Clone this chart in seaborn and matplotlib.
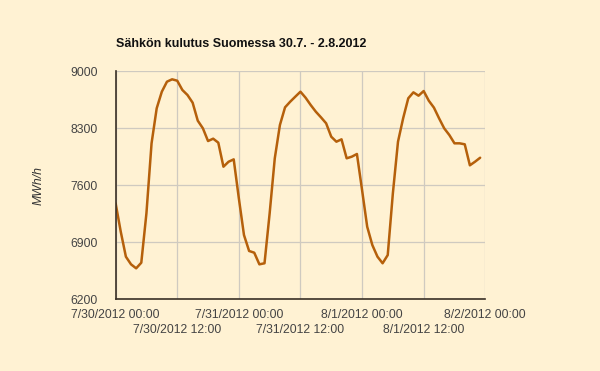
import numpy as np
import pandas as pd
import matplotlib
matplotlib.use("Agg")
import matplotlib.pyplot as plt
import seaborn as sns

# hourly consumption, 30.7.2012 00:00 -> 1.8.2012 23:00 (MWh/h)
day1 = [7375, 7027, 6720, 6626, 6577, 6646, 7252, 8112, 8542, 8746, 8869, 8898,
        8881, 8767, 8705, 8611, 8390, 8296, 8140, 8169, 8120, 7825, 7886, 7915]
day2 = [7437, 6986, 6790, 6769, 6626, 6639, 7252, 7928, 8337, 8554, 8623, 8685,
        8746, 8672, 8582, 8500, 8431, 8358, 8193, 8132, 8161, 7928, 7948, 7981]
day3 = [7539, 7088, 6863, 6720, 6639, 6740, 7498, 8132, 8419, 8665, 8738, 8697,
        8754, 8635, 8550, 8419, 8296, 8214, 8112, 8112, 8100, 7842, 7886, 7935]

consumption = day1 + day2 + day3
times = pd.date_range("2012-07-30 00:00", periods=len(consumption), freq="h")
df = pd.DataFrame({"time": times, "MWh/h": consumption})

yticks = [6200, 6900, 7600, 8300, 9000]
midnights = pd.date_range("2012-07-30 00:00", "2012-08-02 00:00", freq="24h")
noons = pd.date_range("2012-07-30 12:00", "2012-08-01 12:00", freq="24h")


def fmt(t):
    return f"{t.month}/{t.day}/{t.year} {t:%H:%M}"


bg = "#fff2d3"
sns.set_style("white")
plt.rcParams["font.family"] = ["Liberation Sans", "DejaVu Sans"]

fig = plt.figure(figsize=(6, 3.71), dpi=100, facecolor=bg)
ax = fig.add_axes([0.1927, 0.194, 0.6161, 0.6146], facecolor=bg)

sns.lineplot(data=df, x="time", y="MWh/h", ax=ax, color="#b5600b", linewidth=1.8)

ax.set_ylim(6200, 9000)
ax.set_xlim(midnights[0], midnights[-1])
ax.set_yticks(yticks)
ax.set_yticklabels([str(v) for v in yticks])
# staggered labels: midnights on first row, noons on second
ax.set_xticks(midnights)
ax.set_xticklabels([fmt(t) for t in midnights])
ax.set_xticks(noons, minor=True)
ax.set_xticklabels([fmt(t) for t in noons], minor=True)

ax.grid(True, which="both", color="#cfcac0", linewidth=0.9)
for side in ["top", "right"]:
    ax.spines[side].set_visible(False)
for side in ["left", "bottom"]:
    ax.spines[side].set_color("#3a3026")
    ax.spines[side].set_linewidth(1.2)
ax.tick_params(axis="both", which="both", length=0, labelsize=8.8, labelcolor="#444444")
ax.tick_params(axis="y", pad=13)
ax.tick_params(axis="x", which="major", pad=7)
ax.tick_params(axis="x", which="minor", pad=18)

ax.set_xlabel("")
ax.set_ylabel("MWh/h", fontsize=8.8, style="italic", color="#333333", labelpad=18)
ax.set_title("Sähkön kulutus Suomessa 30.7. - 2.8.2012", loc="left",
             fontsize=9, fontweight="bold", pad=17, color="#111111")

fig.savefig("out.png", dpi=100, facecolor=bg)
